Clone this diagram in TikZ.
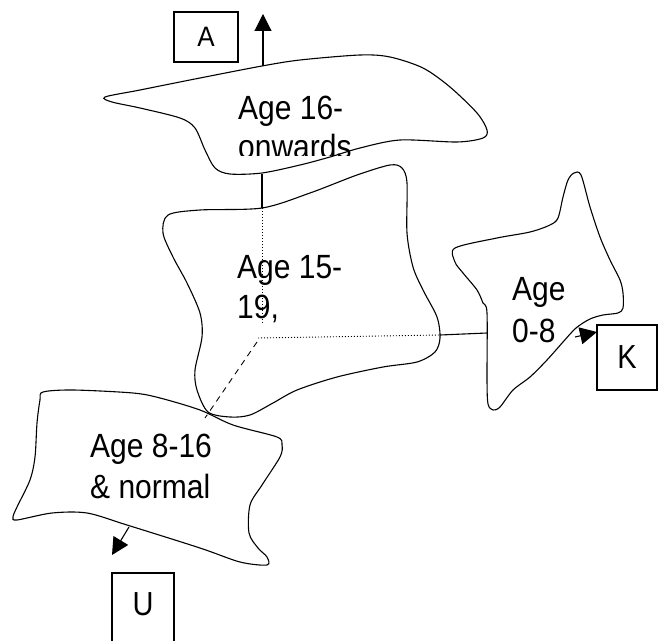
\documentclass[tikz,border=0pt]{standalone}
\usepackage{fontspec}
\setmainfont{Liberation Sans}
\usetikzlibrary{arrows.meta}
\newcommand\vstretchtxt[2][1.12]{\scalebox{1}[#1]{#2}}
\begin{document}
\begin{tikzpicture}[x=1bp,y=-1bp,
  outline/.style={draw=black, line width=1.1bp},
  lab/.style={anchor=base west, inner sep=0pt, font=\fontsize{30bp}{40bp}\selectfont},
  boxnode/.style={draw=black, line width=1.2bp, inner sep=0pt},
  link/.style={draw=black, line width=1.1bp},
  arr/.style={link, -{Triangle[length=17bp,width=17bp]}},
  dotline/.style={draw=black, line width=0.9bp, dash pattern=on 1bp off 2bp},
  dashline/.style={draw=black, line width=0.9bp, dash pattern=on 6bp off 5bp}]
\useasboundingbox (0,0) rectangle (659,641);
\clip (0,0) rectangle (659,641);

% blob: Age 16- onwards
\draw[outline] plot[smooth cycle, tension=0.5] coordinates {
 (105,97) (140,90) (200,78) (262,66) (300,60) (360,55) (390,57) (423,68)
 (450,87) (477,113) (487,130) (483,138) (457,142) (400,140) (360,148)
 (330,157) (300,165) (262,173) (230,174) (215,168) (205,150) (195,128)
 (180,118) (140,108) (112,102)};
% blob: Age 15-19
\draw[outline] plot[smooth cycle, tension=0.5] coordinates {
 (168,215) (200,210) (262,208) (310,193) (357,175) (390,165) (402,168)
 (407,183) (407,233) (413,267) (423,290) (437,317) (440,338) (435,352)
 (417,362) (383,367) (337,377) (297,390) (273,403) (250,415) (230,417)
 (208,412) (197,390) (195,370) (202,337) (200,313) (187,283) (173,257)
 (163,233)};
% blob: Age 0-8
\draw[outline] plot[smooth cycle, tension=0.5] coordinates {
 (455,248) (497,238) (530,232) (550,225) (558,218) (563,197) (568,180)
 (574,173) (581,175) (590,207) (600,237) (610,260) (620,280) (623,293)
 (623,308) (618,313) (603,315) (590,319) (576,328) (563,342) (547,360)
 (530,377) (513,390) (500,407) (493,410) (488,404) (487,380) (487,313)
 (483,303) (477,290) (463,273) (455,262)};
% blob: Age 8-16 & normal
\draw[outline] plot[smooth cycle, tension=0.5] coordinates {
 (43,392) (73,390) (133,393) (160,398) (200,410) (233,425) (277,437)
 (282,445) (280,457) (262,485) (250,505) (249,533) (258,548) (267,557)
 (267,565) (240,562) (200,548) (127,525) (87,513) (52,513) (17,520)
 (13,517) (17,507) (30,480) (35,457) (37,423) (40,400)};

% labels
\node[lab] (l16) at (238,120) {\vstretchtxt{Age 16-}};
\begin{scope}
\clip (0,0) rectangle (659,156);
\node[lab] (l16b) at (238,159) {\vstretchtxt{onwards}};
\end{scope}
\node[lab] (l15) at (237,278) {\vstretchtxt{Age 15-}};
\node[lab] (l15b) at (237,318) {\vstretchtxt{19,}};
\node[lab] (l0) at (512,300) {\vstretchtxt{Age}};
\node[lab] (l0b) at (512,342) {\vstretchtxt{0-8}};
\node[lab] (l8) at (90,457) {\vstretchtxt{Age 8-16}};
\node[lab] (l8b) at (90,498) {\vstretchtxt{\&{} normal}};

% boxes
\node[boxnode, minimum width=64bp, minimum height=50bp,
      font=\fontsize{26bp}{30bp}\selectfont] (A) at (206,37) {\vstretchtxt[1.08]{A}};
\node[boxnode, minimum width=60bp, minimum height=65bp,
      font=\fontsize{29bp}{32bp}\selectfont] (K) at (627,357.5) {\vstretchtxt[1.15]{K}};
\node[boxnode, minimum width=62bp, minimum height=80bp] (U) at (143,613) {};
\node[inner sep=0pt, font=\fontsize{29bp}{32bp}\selectfont] (Ut) at (143,604) {\vstretchtxt[1.15]{U}};

% connector coordinates
\coordinate (a0) at (263,66);
\coordinate (a1) at (263,14);
\coordinate (m0) at (262,174);
\coordinate (m1) at (262,208);
\coordinate (m2) at (262,323);
\coordinate (c0) at (258,338);
\coordinate (c1) at (440,335);
\coordinate (c2) at (487,333);
\coordinate (d0) at (257,342);
\coordinate (d1) at (205,418);
\coordinate (k0) at (575,337);
\coordinate (k1) at (597,332);
\coordinate (u0) at (129,527);
\coordinate (u1) at (112,555);

\draw[arr] (a0) -- (a1);
\draw[link] (m0) -- (m1);
\draw[dotline] (m1) -- (m2);
\draw[dotline] (c0) -- (c1);
\draw[link] (c1) -- (c2);
\draw[dashline] (d0) -- (d1);
\draw[arr] (k0) -- (k1);
\draw[arr] (u0) -- (u1);
\end{tikzpicture}
\end{document}
